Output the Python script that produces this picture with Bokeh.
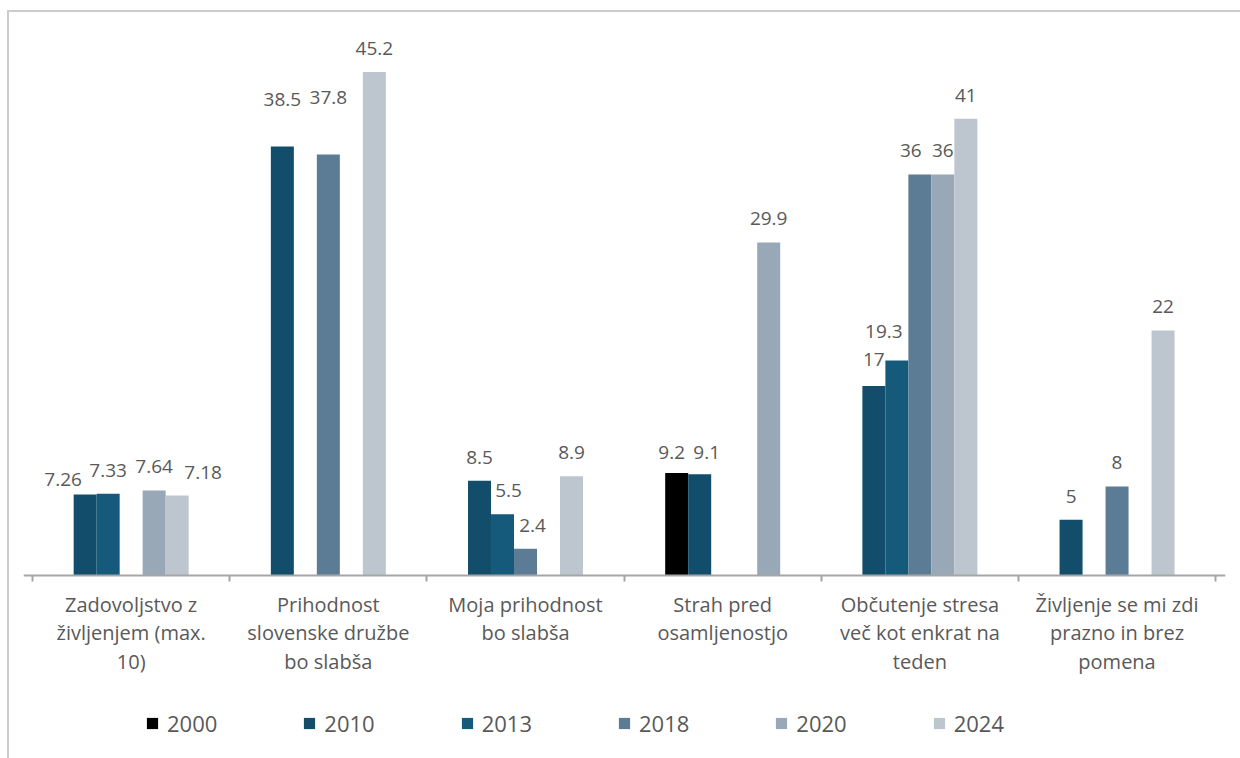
from bokeh.plotting import figure
from bokeh.models import (ColumnDataSource, LabelSet, Range1d, FixedTicker, Legend,
                          LegendItem)
from bokeh.core.properties import value
from bokeh.embed import file_html
from bokeh.resources import INLINE

# ---------------- data ----------------
categories = [
    "Zadovoljstvo z\nživljenjem (max.\n10)",
    "Prihodnost\nslovenske družbe\nbo slabša",
    "Moja prihodnost\nbo slabša",
    "Strah pred\nosamljenostjo",
    "Občutenje stresa\nveč kot enkrat na\nteden",
    "Življenje se mi zdi\nprazno in brez\npomena",
]
years = ["2000", "2010", "2013", "2018", "2020", "2024"]
v2000 = [None, None, None, 9.2, None, None]
v2010 = [7.26, 38.5, 8.5, 9.1, 17, 5]
v2013 = [7.33, None, 5.5, None, 19.3, None]
v2018 = [None, 37.8, 2.4, None, 36, 8]
v2020 = [7.64, None, None, 29.9, 36, None]
v2024 = [7.18, 45.2, 8.9, None, 41, 22]
series = [v2000, v2010, v2013, v2018, v2020, v2024]

# ---------------- style / layout ----------------
colors = ["#000000", "#124e6b", "#155a7b", "#5c7c95", "#98a8b6", "#bdc5cf"]
slot_shift = [0, 0, 0, 1, 0, 0]     # bars of 4th group sit one slot to the right
W = 23 / 197.2                       # bar (slot) width in category units
TEXT = "#595959"
FONT = "Open Sans"
label_nudge = {
    (0, "2010"): (-22, -8), (0, "2024"): (26, 0),
    (1, "2010"): (0, 24), (1, "2018"): (0, 33),
    (2, "2013"): (6, 0), (2, "2018"): (7, 0),
    (3, "2000"): (-5, -3), (3, "2010"): (7, -2),
    (4, "2010"): (0, 3), (4, "2013"): (-13, 5), (4, "2018"): (-9, 0),
}

# frame reaches the bottom of the page; the category axis sits at y = 0
p = figure(frame_width=1202, frame_height=740, min_border_left=23, min_border_right=15,
           min_border_top=18, min_border_bottom=0,
           x_range=Range1d(-0.046, 6.05), y_range=Range1d(50 - 740 / 11.14, 50),
           output_backend="svg", toolbar_location=None,
           background_fill_color="white", border_fill_color=None)
p.outline_line_color = None
p.grid.visible = False
p.yaxis.visible = False
# light frame lines (left and top) of the chart area, drawn as the page background
p.styles = {
    "background": ("linear-gradient(#cccccc,#cccccc) 7px 10px / 2px 760px no-repeat, "
                   "linear-gradient(#cccccc,#cccccc) 7px 10px / 1240px 2px no-repeat, white"),
}

items = []
lx, ly, lt, lxo, lyo = [], [], [], [], []
for si, (yr, vals) in enumerate(zip(years, series)):
    xs, tops = [], []
    for ci, v in enumerate(vals):
        if v is None:
            continue
        x = ci + 0.5 + (si + slot_shift[ci] - 3) * W
        xs.append(x)
        tops.append(v)
        dx, dy = label_nudge.get((ci, yr), (0, 0))
        lx.append(x); ly.append(v); lt.append(f"{v:g}")
        lxo.append(dx); lyo.append(17 + dy)
    r = p.vbar(x=xs, top=tops, bottom=0, width=W, fill_color=colors[si], line_color=None)
    items.append(LegendItem(label=yr, renderers=[r]))

lsrc = ColumnDataSource(dict(x=lx, y=ly, t=lt, xo=lxo, yo=lyo))
p.add_layout(LabelSet(x="x", y="y", text="t", source=lsrc, x_offset="xo", y_offset="yo",
                      text_align="center", text_baseline="alphabetic",
                      text_font=value(FONT), text_font_size="19px", text_color=TEXT))

ax = p.xaxis[0]
ax.fixed_location = 0
ax.ticker = FixedTicker(ticks=[i + 0.5 for i in range(6)], minor_ticks=list(range(7)))
ax.major_label_overrides = {i + 0.5: categories[i] for i in range(6)}
ax.axis_line_color = "#a6a6a6"
ax.axis_line_width = 2
ax.major_tick_out = 0
ax.major_tick_in = 0
ax.minor_tick_out = 6
ax.minor_tick_in = 0
ax.minor_tick_line_color = "#a6a6a6"
ax.minor_tick_line_width = 2
ax.major_label_standoff = 9
ax.major_label_text_font = FONT
ax.major_label_text_font_size = "20px"
ax.major_label_text_color = TEXT
ax.major_label_text_line_height = 1.06

legend = Legend(items=items, orientation="horizontal", ncols=6, location=(122, 20),
                label_text_font=FONT, label_text_font_size="22px", label_text_color=TEXT,
                glyph_width=14, glyph_height=14, label_standoff=8, spacing=85,
                padding=0, margin=0, border_line_color=None, background_fill_alpha=0)
p.add_layout(legend, "center")

open("out.html", "w").write(file_html(p, INLINE))
